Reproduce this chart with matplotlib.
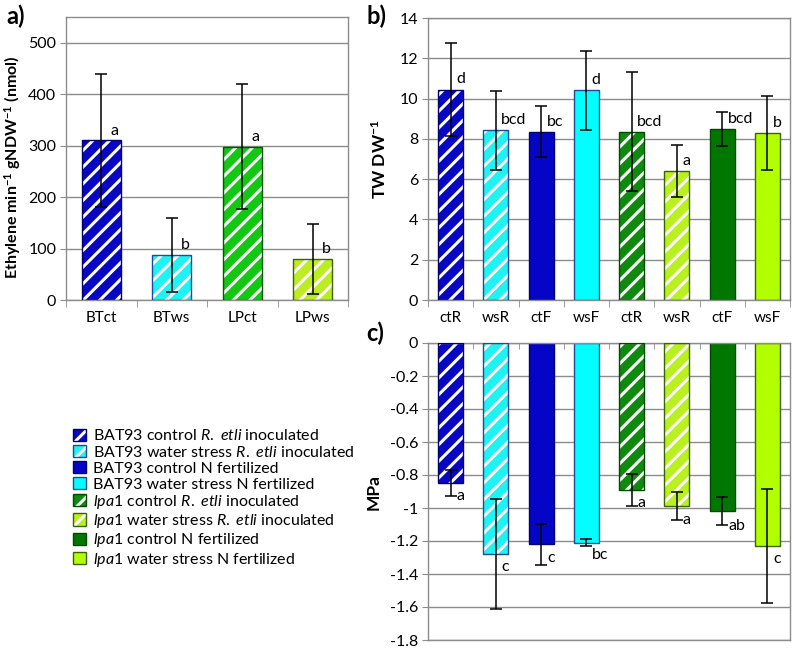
import matplotlib
matplotlib.use("Agg")
import matplotlib.pyplot as plt
from matplotlib.patches import Patch
from matplotlib.legend_handler import HandlerTuple
from matplotlib.ticker import FuncFormatter
import numpy as np

plt.rcParams['font.family'] = ['Lato', 'DejaVu Sans']
plt.rcParams['mathtext.fontset'] = 'custom'
plt.rcParams['mathtext.rm'] = 'Lato'
plt.rcParams['mathtext.it'] = 'Lato:italic'
plt.rcParams['mathtext.bf'] = 'Lato:bold'
plt.rcParams['axes.unicode_minus'] = False
plt.rcParams['hatch.linewidth'] = 2.2

# ---------------- data ----------------
a_categories = ['BTct', 'BTws', 'LPct', 'LPws']
a_values = [310, 88, 298, 80]
a_errors = [130, 72, 121, 68]
a_letters = ['a', 'b', 'a', 'b']

b_categories = ['ctR', 'wsR', 'ctF', 'wsF', 'ctR', 'wsR', 'ctF', 'wsF']
b_values = [10.45, 8.42, 8.36, 10.42, 8.36, 6.42, 8.48, 8.30]
b_errors = [2.32, 1.97, 1.27, 1.96, 2.97, 1.29, 0.83, 1.85]
b_letters = ['d', 'bcd', 'bc', 'd', 'bcd', 'a', 'bcd', 'b']

c_values = [-0.85, -1.28, -1.22, -1.21, -0.89, -0.985, -1.02, -1.23]
c_errors = [0.08, 0.335, 0.125, 0.02, 0.095, 0.085, 0.085, 0.345]
c_letters = ['a', 'c', 'c', 'bc', 'a', 'a', 'ab', 'c']
c_letter_y = [-0.93, -1.36, -1.30, -1.285, -0.97, -1.07, -1.11, -1.31]

legend_labels = [
    'BAT93 control $\\mathit{R.\\ etli}$ inoculated',
    'BAT93 water stress $\\mathit{R.\\ etli}$ inoculated',
    'BAT93 control N fertilized',
    'BAT93 water stress N fertilized',
    '$\\mathit{lpa1}$ control $\\mathit{R.\\ etli}$ inoculated',
    '$\\mathit{lpa1}$ water stress $\\mathit{R.\\ etli}$ inoculated',
    '$\\mathit{lpa1}$ control N fertilized',
    '$\\mathit{lpa1}$ water stress N fertilized',
]

# ---------------- styles ----------------
fills = ['#0707C4', '#1FF2F2', '#0505C8', '#00FFFF',
         '#0F8A0F', '#B8F020', '#007800', '#B2FF00']
edges = ['#00006E', '#1F4A9A', '#00006E', '#1F4A9A',
         '#004A00', '#3C6400', '#004A00', '#3C6400']
hatched = [True, True, False, False, True, True, False, False]
a_fills = ['#0707C4', '#1FF2F2', '#12C812', '#BCEC22']
a_edges = ['#00006E', '#1F4A9A', '#005A00', '#3C6400']

grid_c = '#8C8C8C'
W = 0.55

fig = plt.figure(figsize=(7.98, 6.48), dpi=100)
ax_a = fig.add_axes([66/798, 1-300/648, (348-66)/798, (300-17)/648])
ax_b = fig.add_axes([428/798, 1-300/648, (790-428)/798, (300-18)/648])
ax_c = fig.add_axes([428/798, 1-640/648, (790-428)/798, (640-343)/648])


def draw_bars(ax, x, vals, errs, fc, ec, hat):
    for xi, v, e, f, c, h in zip(x, vals, errs, fc, ec, hat):
        if h:
            ax.bar(xi, v, W, color=f, hatch='//', edgecolor='white', linewidth=0, zorder=2)
            ax.bar(xi, v, W, fill=False, edgecolor=c, linewidth=1.0, zorder=3)
        else:
            ax.bar(xi, v, W, color=f, edgecolor=c, linewidth=1.0, zorder=2)
        ax.errorbar(xi, v, yerr=e, fmt='none', ecolor='black', elinewidth=1.1,
                    capsize=4, capthick=1.1, zorder=4)


def style_axes(ax):
    for s in ax.spines.values():
        s.set_color(grid_c)
        s.set_linewidth(1.0)
    ax.grid(axis='y', color=grid_c, linewidth=1.0, zorder=0)
    ax.set_axisbelow(True)
    ax.tick_params(axis='y', length=4, color=grid_c, labelsize=11.5, pad=3)
    ax.tick_params(axis='x', which='minor', length=5, color=grid_c, direction='out')
    ax.tick_params(axis='x', which='major', length=0, labelsize=11, pad=8)


# ---- panel a ----
xa = np.arange(len(a_categories))
draw_bars(ax_a, xa, a_values, a_errors, a_fills, a_edges, [True, True, True, True])
ax_a.set_xlim(-0.5, len(a_categories) - 0.5)
ax_a.set_ylim(0, 550)
ax_a.set_yticks([0, 100, 200, 300, 400, 500])
ax_a.set_xticks(xa)
ax_a.set_xticklabels(a_categories)
ax_a.set_xticks(np.arange(-0.5, len(a_categories)), minor=True)
style_axes(ax_a)
for xi, v, t in zip(xa, a_values, a_letters):
    ax_a.text(xi + 0.13, v + 11, t, fontsize=11.5, ha='left', va='baseline')
ax_a.set_ylabel('Ethylene min$^{\\mathbf{-1}}$ gNDW$^{\\mathbf{-1}}$ (nmol)',
                fontsize=11.5, fontweight='bold')
ax_a.yaxis.set_label_coords(-0.152, 0.47)

# ---- panel b ----
xb = np.arange(len(b_categories))
draw_bars(ax_b, xb, b_values, b_errors, fills, edges, hatched)
ax_b.set_xlim(-0.5, len(b_categories) - 0.5)
ax_b.set_ylim(0, 14)
ax_b.set_yticks(np.arange(0, 15, 2))
ax_b.set_xticks(xb)
ax_b.set_xticklabels(b_categories)
ax_b.set_xticks(np.arange(-0.5, len(b_categories)), minor=True)
style_axes(ax_b)
for xi, v, t in zip(xb, b_values, b_letters):
    ax_b.text(xi + 0.12, v + 0.3, t, fontsize=11.5, ha='left', va='baseline')
ax_b.set_ylabel('TW DW$^{\\mathbf{-1}}$', fontsize=12.5, fontweight='bold', labelpad=8)

# ---- panel c ----
draw_bars(ax_c, xb, c_values, c_errors, fills, edges, hatched)
ax_c.set_xlim(-0.5, len(b_categories) - 0.5)
ax_c.set_ylim(-1.8, 0)
ax_c.set_yticks(np.round(np.arange(-1.8, 0.01, 0.2), 1))
ax_c.yaxis.set_major_formatter(FuncFormatter(lambda v, p: '0' if abs(v) < 1e-9 else f'{v:g}'))
ax_c.xaxis.set_ticks_position('top')
ax_c.set_xticks([])
ax_c.set_xticks(np.arange(-0.5, len(b_categories)), minor=True)
style_axes(ax_c)
ax_c.tick_params(axis='x', which='minor', length=4, direction='in', top=True, bottom=False)
for xi, y, t in zip(xb, c_letter_y, c_letters):
    ax_c.text(xi + 0.13, y, t, fontsize=11.5, ha='left', va='center')
ax_c.set_ylabel('MPa', fontsize=12.5, fontweight='bold', labelpad=6)

# ---- panel labels ----
fig.text(6/798, 1-16/648, 'a)', fontsize=17, fontweight='bold', va='center', ha='left')
fig.text(366/798, 1-16/648, 'b)', fontsize=17, fontweight='bold', va='center', ha='left')
fig.text(366/798, 1-333/648, 'c)', fontsize=17, fontweight='bold', va='center', ha='left')

# ---- legend ----
handles = []
for f, c, h in zip(fills, edges, hatched):
    if h:
        handles.append((Patch(facecolor=f, hatch='//', edgecolor='white', linewidth=0),
                        Patch(fill=False, edgecolor=c, linewidth=1.0)))
    else:
        handles.append(Patch(facecolor=f, edgecolor=c, linewidth=1.0))
fig.legend(handles, legend_labels, loc='upper left',
           bbox_to_anchor=(59/798, 1-414/648), frameon=False, fontsize=11.5,
           handlelength=0.8, handleheight=0.8, labelspacing=0.08, handletextpad=0.45,
           handler_map={tuple: HandlerTuple(ndivide=1, pad=0)})

fig.savefig('out.png', dpi=100)
